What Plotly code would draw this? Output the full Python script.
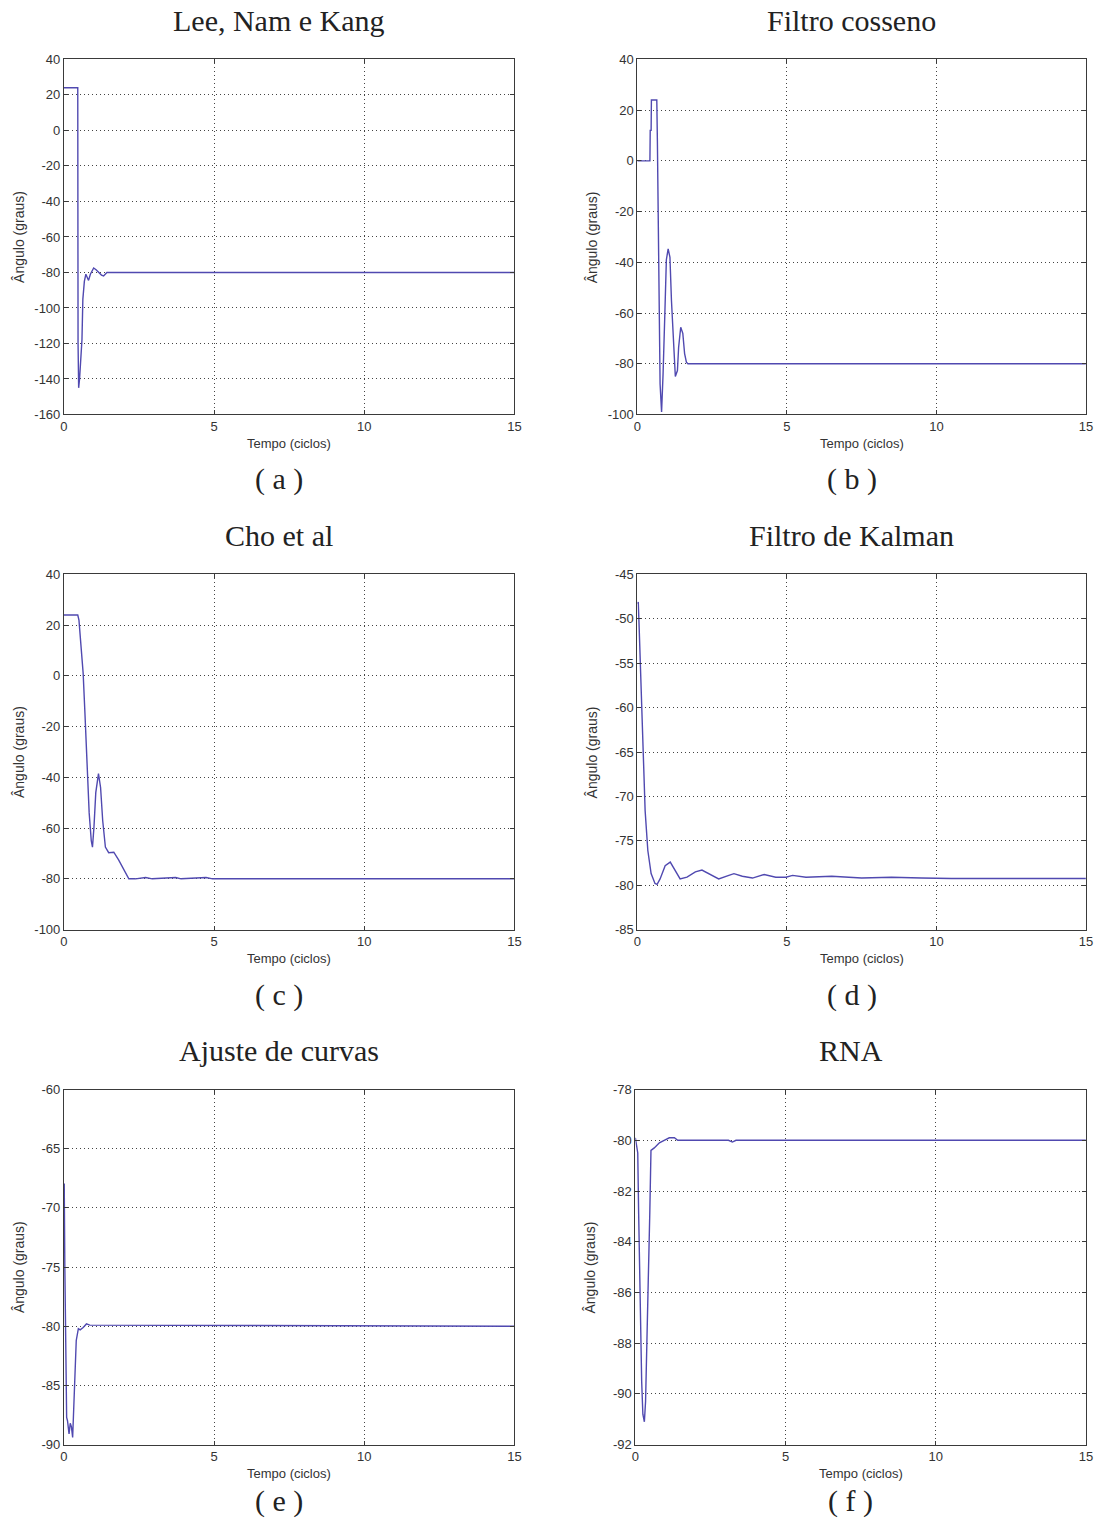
import plotly.graph_objects as go

W, H = 1099, 1524

titles = ["Lee, Nam e Kang", "Filtro cosseno", "Cho et al", "Filtro de Kalman", "Ajuste de curvas", "RNA"]
letters = ["( a )", "( b )", "( c )", "( d )", "( e )", "( f )"]

t_a = [0, 0.46, 0.47, 0.49, 0.52, 0.57, 0.60, 0.63, 0.68, 0.73, 0.76, 0.82, 0.88, 0.94, 0.99, 1.07, 1.15, 1.25, 1.32, 1.43, 15]
y_a = [24, 24, -120, -145, -140, -125, -118, -95, -85, -81, -82, -84.5, -81, -79, -77.5, -78.5, -80, -81.5, -82, -80, -80]

t_b = [0, 0.42, 0.43, 0.46, 0.47, 0.65, 0.67, 0.70, 0.72, 0.76, 0.81, 0.84, 0.86, 0.92, 0.97, 1.03, 1.09, 1.14, 1.20, 1.27, 1.34, 1.38, 1.45, 1.52, 1.58, 1.64, 1.69, 15]
y_b = [0, 0, 12, 12, 24, 24, 8, -30, -67, -88, -99, -92, -84, -60, -39, -34.7, -38, -55, -71, -85, -82.7, -73.5, -65.6, -68, -76, -79.4, -80, -80]

t_c = [0, 0.46, 0.50, 0.57, 0.64, 0.70, 0.77, 0.84, 0.91, 0.95, 1.0, 1.06, 1.15, 1.22, 1.29, 1.38, 1.49, 1.66, 1.82, 1.99, 2.16, 2.38, 2.72, 2.94, 3.72, 3.9, 4.73, 4.95, 15]
y_c = [24, 24, 22, 13, 1, -15, -36, -54, -65, -67.5, -59.5, -46, -38.5, -44, -57, -67.5, -69.7, -69.5, -72.5, -76.5, -80, -80, -79.5, -80, -79.5, -80, -79.5, -80, -80]

t_d = [0, 0.03, 0.06, 0.10, 0.15, 0.20, 0.26, 0.35, 0.46, 0.59, 0.66, 0.76, 0.93, 1.10, 1.27, 1.43, 1.66, 1.94, 2.16, 2.39, 2.72, 3.06, 3.23, 3.51, 3.85, 4.24, 4.63, 4.97, 5.19, 5.64, 6.5, 7.5, 8.5, 9.5, 10.5, 15]
y_d = [-48.3, -48.1, -50.9, -54.7, -59.9, -65.9, -71.6, -76.1, -78.7, -79.8, -79.9, -79.3, -77.8, -77.4, -78.3, -79.3, -79.1, -78.5, -78.3, -78.7, -79.3, -78.9, -78.7, -79.0, -79.2, -78.8, -79.1, -79.1, -78.9, -79.1, -79.0, -79.2, -79.1, -79.2, -79.25, -79.25]

t_e = [0, 0.01, 0.03, 0.06, 0.09, 0.12, 0.17, 0.21, 0.25, 0.29, 0.32, 0.37, 0.41, 0.48, 0.54, 0.64, 0.75, 0.86, 15]
y_e = [-68, -68, -75, -83.7, -87.7, -88, -89.1, -88.2, -88.5, -89.4, -87.4, -84.6, -81.2, -80.2, -80.3, -80.1, -79.8, -79.9, -80]

t_f = [0, 0.04, 0.08, 0.11, 0.14, 0.18, 0.21, 0.25, 0.30, 0.34, 0.39, 0.43, 0.48, 0.52, 0.63, 0.80, 0.96, 1.13, 1.30, 1.41, 3.1, 3.23, 3.35, 15]
y_f = [-79.9, -80.2, -80.5, -82.9, -85.5, -87.6, -89.5, -90.8, -91.1, -90.3, -88.2, -85.5, -82.9, -80.4, -80.3, -80.1, -80.0, -79.9, -79.9, -80.0, -80, -80.07, -80, -80]

x_ticks = [0, 5, 10, 15]
y_ticks = [
    [-160, -140, -120, -100, -80, -60, -40, -20, 0, 20, 40],
    [-100, -80, -60, -40, -20, 0, 20, 40],
    [-100, -80, -60, -40, -20, 0, 20, 40],
    [-85, -80, -75, -70, -65, -60, -55, -50, -45],
    [-90, -85, -80, -75, -70, -65, -60],
    [-92, -90, -88, -86, -84, -82, -80, -78],
]

series = [(t_a, y_a), (t_b, y_b), (t_c, y_c), (t_d, y_d), (t_e, y_e), (t_f, y_f)]

# target plot boxes in pixels: (left, right, top, bottom)
boxes = [
    (62, 513, 59, 414), (636, 1085, 59, 414),
    (62, 513, 574, 929), (636, 1085, 574, 929),
    (62, 513, 1089, 1444), (634, 1085, 1089, 1444),
]

# compensation for slight scaling observed in the rendered snapshot
SX, OX = 0.991, 2.0
SY, OY = 0.990, 6.6


def px(x):
    return (x - OX) / SX / W


def py(y):
    return 1 - (y - OY) / SY / H


LINE = "#5049b0"
AX = "#3a3a3a"
TICKFONT = dict(family="Liberation Sans, Arial, sans-serif", size=13, color="#333333")
SERIF = dict(family="Liberation Serif, Times New Roman, serif", size=30, color="#222222")

fig = go.Figure()
annotations = []
layout = {}
for i, ((t, y), (l, r, tp, bt), yt) in enumerate(zip(series, boxes, y_ticks)):
    n = i + 1
    xa = "x" if n == 1 else f"x{n}"
    ya = "y" if n == 1 else f"y{n}"
    fig.add_trace(go.Scatter(x=t, y=y, mode="lines", line=dict(color=LINE, width=1.4),
                             xaxis=xa, yaxis=ya, showlegend=False, hoverinfo="skip"))
    common = dict(showline=True, linecolor=AX, linewidth=1, mirror="ticks", ticks="inside",
                  ticklen=4, tickcolor=AX, showgrid=True, gridcolor="#444444", griddash="1px,3px",
                  gridwidth=1, zeroline=False, tickfont=TICKFONT)
    layout["xaxis" if n == 1 else f"xaxis{n}"] = dict(
        domain=[px(l), px(r)], range=[0, 15], tickvals=x_ticks,
        ticktext=[str(v) for v in x_ticks], anchor=ya, **common)
    layout["yaxis" if n == 1 else f"yaxis{n}"] = dict(
        domain=[py(bt), py(tp)], range=[yt[0], yt[-1]], tickvals=yt,
        ticktext=[str(v) for v in yt], anchor=xa, **common)
    cx = (l + r) / 2
    annotations.append(dict(text=titles[i], x=px(cx - 10), y=py(tp - 39), xref="paper", yref="paper",
                            showarrow=False, font=SERIF, xanchor="center", yanchor="middle"))
    # letter label, kept inside the page on the bottom row
    ly = max(py(bt + 65), 1 - 1509.0 / H)
    annotations.append(dict(text=letters[i], x=px(cx - 10), y=ly, xref="paper", yref="paper",
                            showarrow=False, font=SERIF, xanchor="center", yanchor="middle"))
    annotations.append(dict(text="Tempo (ciclos)", x=px(cx), y=py(bt + 29), xref="paper", yref="paper",
                            showarrow=False, font=dict(TICKFONT, size=13), xanchor="center", yanchor="middle"))
    annotations.append(dict(text="Ângulo (graus)", x=px(l - 45), y=py((tp + bt) / 2), xref="paper",
                            yref="paper", showarrow=False, textangle=-90, font=dict(TICKFONT, size=14),
                            xanchor="center", yanchor="middle"))

fig.update_layout(width=W, height=H, margin=dict(l=0, r=0, t=0, b=0), paper_bgcolor="white",
                  plot_bgcolor="white", annotations=annotations, **layout)

post = ("var s=document.createElement('style');"
        "s.textContent='html,body{margin:0;padding:0;overflow:hidden;width:%dpx;height:%dpx;}"
        "body>div{line-height:0;font-size:0;}';"
        "document.head.appendChild(s);" % (W, H))
fig.write_html("out.html", config={"displayModeBar": False, "responsive": False}, post_script=post)
